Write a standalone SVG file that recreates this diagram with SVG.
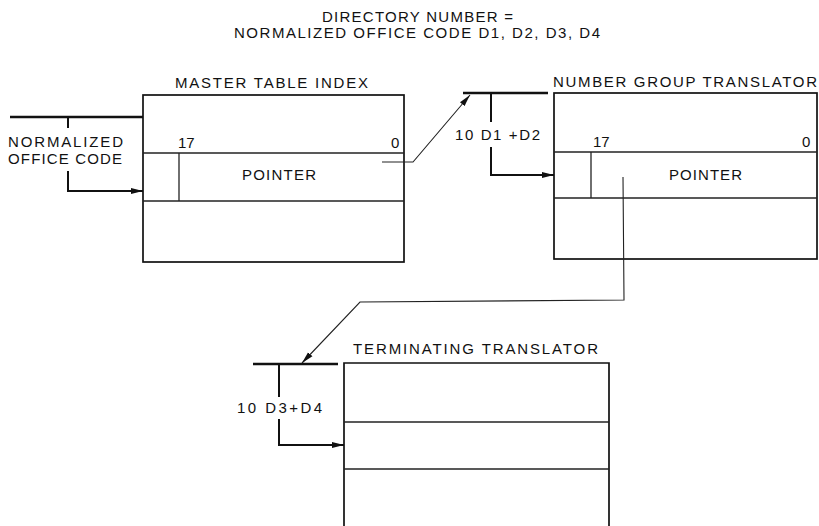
<svg xmlns="http://www.w3.org/2000/svg" width="819" height="526" viewBox="0 0 819 526">
<defs>
<style>
text{font-family:"Liberation Sans",Arial,sans-serif;font-size:15px;fill:#111;}
.box{fill:none;stroke:#111;stroke-width:1.7;}
.row{fill:none;stroke:#222;stroke-width:1.3;}
.thick{fill:none;stroke:#111;stroke-width:2.6;}
.brk{fill:none;stroke:#111;stroke-width:2;}
.thin{fill:none;stroke:#222;stroke-width:1.1;}
</style>
<marker id="ah" markerUnits="userSpaceOnUse" markerWidth="12" markerHeight="7" refX="12" refY="3.5" orient="auto" viewBox="0 0 12 7">
<path d="M0,0.5 L12,3.5 L0,6.5 z" fill="#111"/>
</marker>
</defs>
<rect width="819" height="526" fill="#fff"/>

<g id="title">
<text x="322" y="22" textLength="191" lengthAdjust="spacing">DIRECTORY NUMBER =</text>
<text x="234" y="38" textLength="366" lengthAdjust="spacing">NORMALIZED OFFICE CODE D1, D2, D3, D4</text>
</g>

<g id="input-label">
<text x="8" y="147" textLength="115" lengthAdjust="spacing">NORMALIZED</text>
<text x="8" y="164" textLength="114" lengthAdjust="spacing">OFFICE CODE</text>
</g>

<g id="master-table-index">
<text x="175" y="88" textLength="193" lengthAdjust="spacing">MASTER TABLE INDEX</text>
<rect class="box" x="143" y="95" width="261" height="167"/>
<line class="row" x1="143" y1="153" x2="404" y2="153"/>
<line class="row" x1="143" y1="201" x2="404" y2="201"/>
<line class="row" x1="179" y1="153" x2="179" y2="201"/>
<text x="178" y="148">17</text>
<text x="391" y="148">0</text>
<text x="242" y="180" textLength="74" lengthAdjust="spacing">POINTER</text>
</g>

<g id="number-group-translator">
<text x="553" y="87" textLength="264" lengthAdjust="spacing">NUMBER GROUP TRANSLATOR</text>
<rect class="box" x="554" y="93" width="263" height="166"/>
<line class="row" x1="554" y1="152" x2="817" y2="152"/>
<line class="row" x1="554" y1="198" x2="817" y2="198"/>
<line class="row" x1="591" y1="152" x2="591" y2="198"/>
<text x="593" y="147">17</text>
<text x="802" y="147">0</text>
<text x="669" y="180" textLength="73" lengthAdjust="spacing">POINTER</text>
<text x="455" y="140" textLength="85" lengthAdjust="spacing">10 D1 +D2</text>
</g>

<g id="terminating-translator">
<text x="353" y="354" textLength="245" lengthAdjust="spacing">TERMINATING TRANSLATOR</text>
<path class="box" d="M344,532 V363 H609 V532"/>
<line class="row" x1="344" y1="422" x2="609" y2="422"/>
<line class="row" x1="344" y1="469" x2="609" y2="469"/>
<text x="237" y="413" textLength="85" lengthAdjust="spacing">10 D3+D4</text>
</g>

<g id="connectors">
<line class="thick" x1="10" y1="117" x2="143" y2="117"/>
<line class="brk" x1="68" y1="117" x2="68" y2="128"/>
<polyline class="brk" points="68,171 68,191 143,191" marker-end="url(#ah)"/>

<polyline class="thin" points="382,162 413,162 470,95" marker-end="url(#ah)"/>

<line class="thick" x1="463" y1="93" x2="548" y2="93"/>
<line class="brk" x1="491" y1="93" x2="491" y2="122"/>
<polyline class="brk" points="491,147 491,175 554,175" marker-end="url(#ah)"/>

<polyline class="thin" points="623,177 624,300 360,302 302,363" marker-end="url(#ah)"/>

<line class="thick" x1="253" y1="364" x2="338" y2="364"/>
<line class="brk" x1="279" y1="364" x2="279" y2="397"/>
<polyline class="brk" points="279,419 279,445 344,445" marker-end="url(#ah)"/>
</g>
</svg>
